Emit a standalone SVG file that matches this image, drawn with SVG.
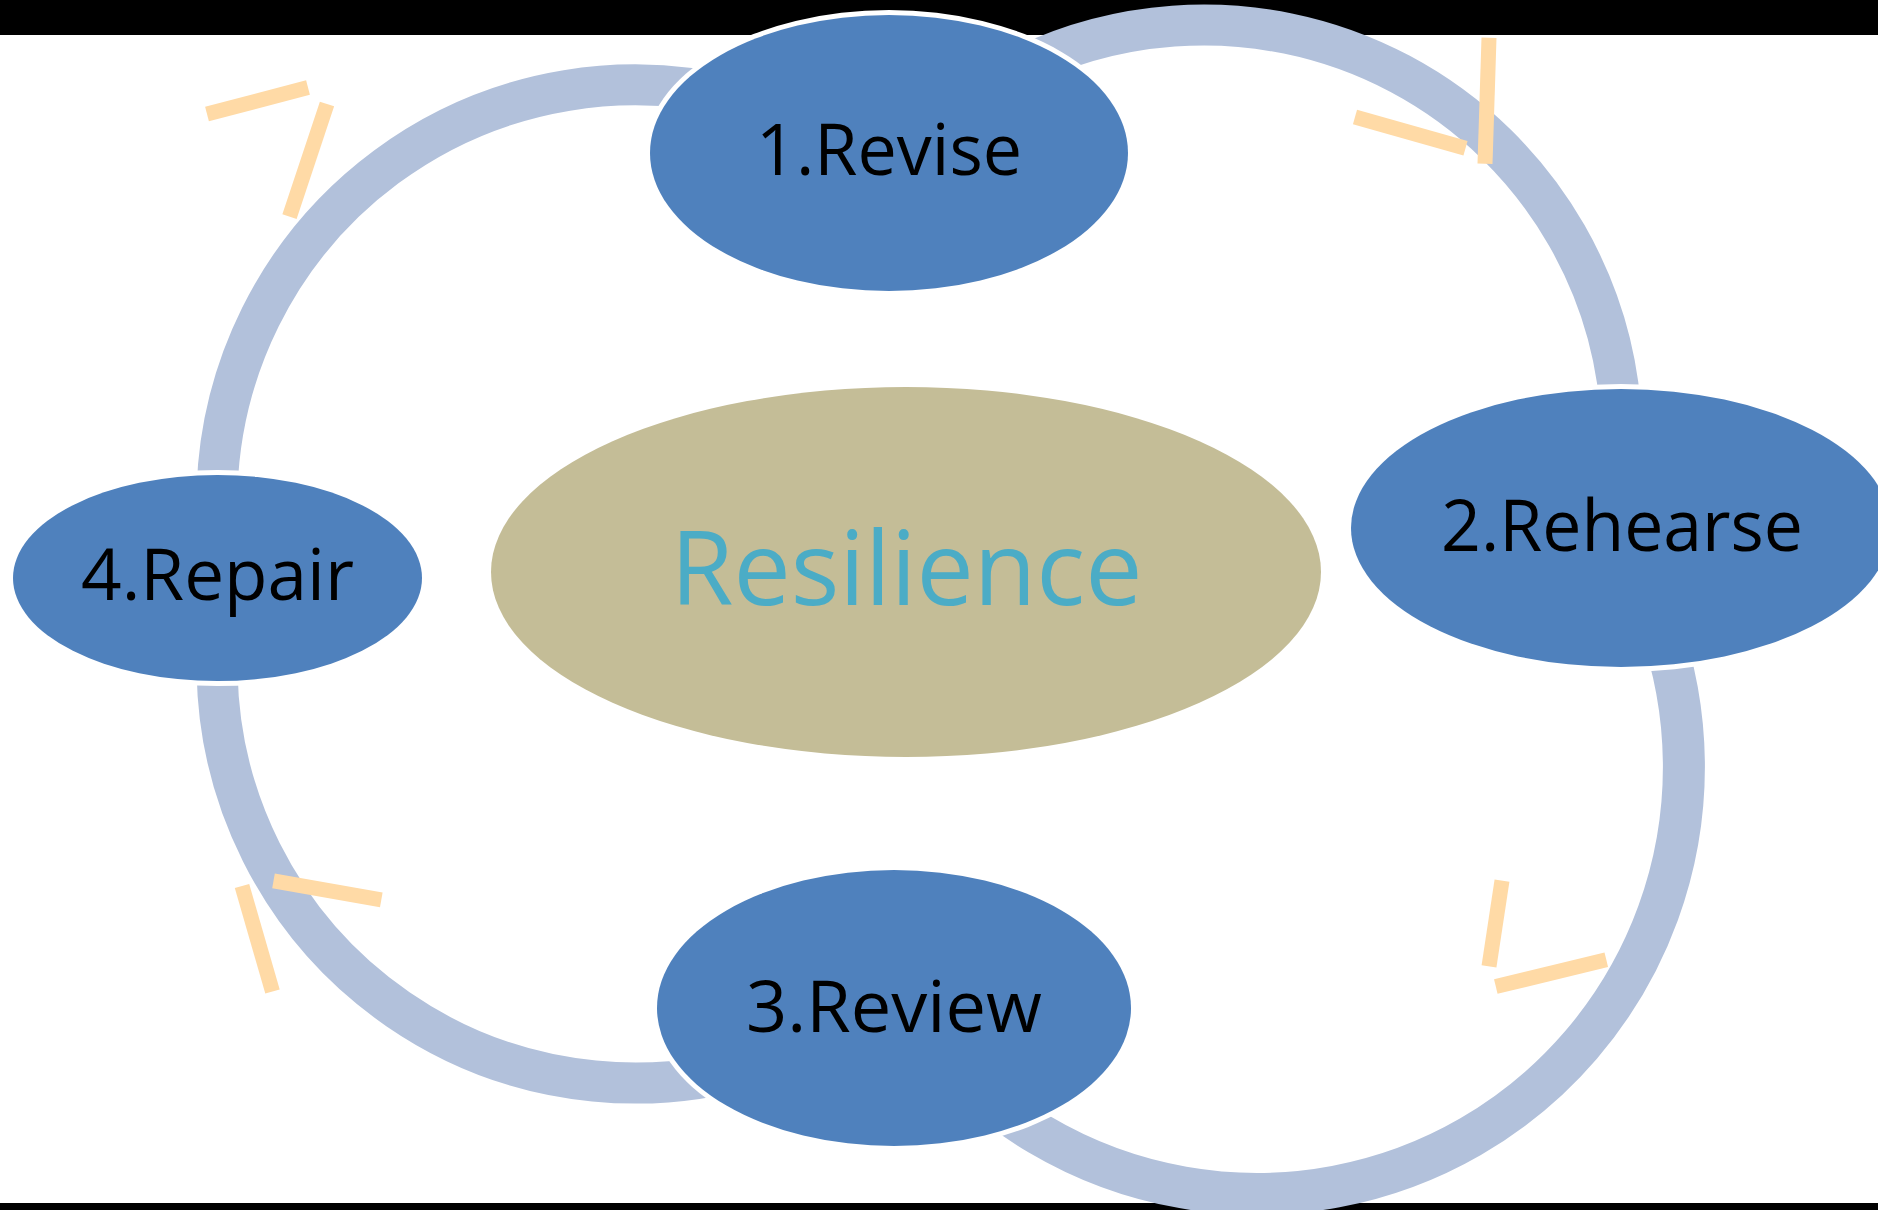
<svg xmlns="http://www.w3.org/2000/svg" width="1878" height="1210" viewBox="0 0 1878 1210">
<style>
.bar{fill:#000}
.arc{fill:none;stroke:#B2C1DB;stroke-width:41;stroke-linecap:butt}
.halo{fill:#fff}
.node{fill:#4F81BD}
.center{fill:#C4BD97}
.lbl{font-family:"Open Sans","Noto Sans","Liberation Sans",sans-serif;font-size:72px;fill:#000;text-anchor:middle}
.big{font-family:"Open Sans","Noto Sans","Liberation Sans",sans-serif;font-size:102px;fill:#4BACC6;text-anchor:middle}
.tick{stroke:#FFDAA6;stroke-width:15;stroke-linecap:butt;fill:none}
</style>
<rect width="1878" height="1210" fill="#fff"/>
<rect class="bar" x="0" y="0" width="1878" height="35"/>
<rect class="bar" x="0" y="1203" width="1878" height="7"/>
<g id="connectors">
<path class="arc" d="M 217.1 488.4 A 418 418 0 0 1 743.2 99.2"/>
<path class="arc" d="M 982.5 88.5 A 418 418 0 0 1 1621.7 428.4"/>
<path class="arc" style="stroke-width:42" d="M 1658.2 621 A 427 427 0 0 1 929.9 1041.5"/>
<path class="arc" d="M 217.1 672.3 A 418 418 0 0 0 778 1057.8"/>
</g>
<g id="center">
<ellipse class="center" cx="906" cy="572" rx="415" ry="185"/>
<text class="big" x="906.5" y="605" textLength="472" lengthAdjust="spacingAndGlyphs">Resilience</text>
</g>
<g id="revise">
<ellipse class="halo" cx="889" cy="153" rx="244" ry="143"/>
<ellipse class="node" cx="889" cy="153" rx="239" ry="138"/>
<text class="lbl" x="889" y="175" textLength="266" lengthAdjust="spacingAndGlyphs">1.Revise</text>
</g>
<g id="rehearse">
<ellipse class="halo" cx="1621" cy="528" rx="275" ry="144"/>
<ellipse class="node" cx="1621" cy="528" rx="270" ry="139"/>
<text class="lbl" x="1622" y="551" textLength="362" lengthAdjust="spacingAndGlyphs">2.Rehearse</text>
</g>
<g id="review">
<ellipse class="halo" cx="894" cy="1008" rx="242" ry="143"/>
<ellipse class="node" cx="894" cy="1008" rx="237" ry="138"/>
<text class="lbl" x="894" y="1032" textLength="296" lengthAdjust="spacingAndGlyphs">3.Review</text>
</g>
<g id="repair">
<ellipse class="halo" cx="217.5" cy="578" rx="209.5" ry="108"/>
<ellipse class="node" cx="217.5" cy="578" rx="204.5" ry="103"/>
<text class="lbl" x="217.5" y="600" textLength="273" lengthAdjust="spacingAndGlyphs">4.Repair</text>
</g>
<g id="arrowheads">
<line class="tick" x1="207" y1="114" x2="308" y2="87.5"/>
<line class="tick" x1="327" y1="104" x2="289.5" y2="216.7"/>
<line class="tick" x1="1355" y1="117" x2="1465.5" y2="148.3"/>
<line class="tick" x1="1489" y1="37.7" x2="1485" y2="163.7"/>
<line class="tick" x1="273.5" y1="880.8" x2="381.3" y2="899.8"/>
<line class="tick" x1="242" y1="886" x2="272.5" y2="991.5"/>
<line class="tick" x1="1502" y1="880.7" x2="1489" y2="966.3"/>
<line class="tick" x1="1495.8" y1="986.5" x2="1606.3" y2="959.7"/>
</g>
</svg>
